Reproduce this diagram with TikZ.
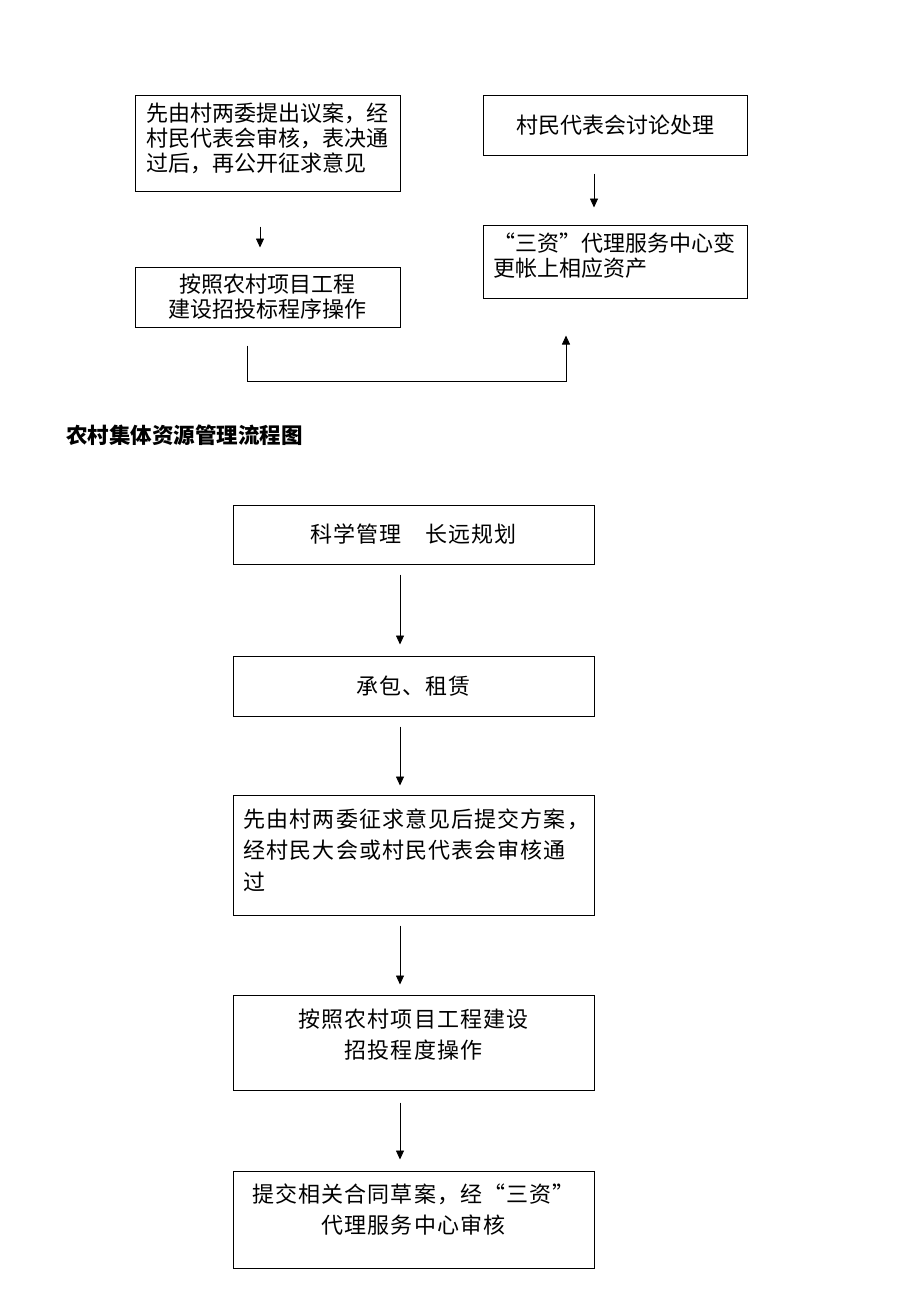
\documentclass[tikz,border=0pt]{standalone}
\usepackage{fontspec}
\setmainfont{Noto Sans CJK SC}
\newfontfamily\cjkwide[LetterSpace=5]{Noto Sans CJK SC}
\usetikzlibrary{arrows.meta}

\tikzset{
  box/.style={draw, line width=1pt, rectangle, inner sep=0pt},
  txt/.style={inner sep=0pt, font=\fontsize{22pt}{25pt}\selectfont},
  wtxt/.style={inner sep=0pt, font=\cjkwide\fontsize{22pt}{31.5pt}\selectfont},
  arr/.style={line width=0.8pt, -{Triangle[length=9pt,width=8pt]}}
}

\begin{document}
\begin{tikzpicture}[x=1pt, y=-1pt]
    % Draw the page
    \fill[white] (0,0) rectangle (920,1302);
    \useasboundingbox (0,0) rectangle (920,1302);

    % Upper part: left column
    \node[box, minimum width=265pt, minimum height=96pt] (shenyi) at (267.5,143) {};
    \node[txt, align=left, anchor=west] (shenyi-t) at ([xshift=12pt,yshift=5pt]shenyi.west)
        {先由村两委提出议案，经\\村民代表会审核，表决通\\过后，再公开征求意见};
    \node[box, minimum width=265pt, minimum height=60pt] (zhaobiao) at (267.5,297) {};
    \node[txt, align=center] (zhaobiao-t) at (zhaobiao.center) {按照农村项目工程\\建设招投标程序操作};

    % Upper part: right column
    \node[box, minimum width=264pt, minimum height=60pt] (taolun) at (615,125) {};
    \node[txt] (taolun-t) at (taolun.center) {村民代表会讨论处理};
    \node[box, minimum width=264pt, minimum height=73pt] (biangeng) at (615,261.5) {};
    \node[txt, align=left, anchor=west] (biangeng-t) at ([xshift=11pt,yshift=6pt]biangeng.west)
        {“三资”代理服务中心变\\更帐上相应资产};

    % Upper arrows
    \draw[arr, shorten <=35pt, shorten >=19pt] ([xshift=-7.5pt]shenyi.south) -- ([xshift=-7.5pt]zhaobiao.north);
    \draw[arr, shorten <=18pt, shorten >=17pt] ([xshift=-21pt]taolun.south) -- ([xshift=-21pt]biangeng.north);
    \coordinate (guodu) at (247,381);
    \draw[arr, shorten <=18pt, shorten >=37pt] ([xshift=-20.5pt]zhaobiao.south) -- (guodu) -| ([xshift=-49pt]biangeng.south);

    % Title
    \node[txt, anchor=west, font=\fontsize{21.5pt}{25pt}\selectfont\bfseries] (biaoti) at (66,435) {农村集体资源管理流程图};

    % Lower flow chart
    \node[box, minimum width=361pt, minimum height=59pt] (guihua) at (413.5,534.5) {};
    \node[wtxt] (guihua-t) at (guihua.center) {科学管理　长远规划};
    \node[box, minimum width=361pt, minimum height=60pt] (chengbao) at (413.5,686) {};
    \node[wtxt] (chengbao-t) at (chengbao.center) {承包、租赁};
    \node[box, minimum width=361pt, minimum height=120pt] (fangan) at (413.5,855) {};
    \node[wtxt, align=left, anchor=west] (fangan-t) at ([xshift=11pt,yshift=5pt]fangan.west)
        {先由村两委征求意见后提交方案，\\经村民大会或村民代表会审核通\\过};
    \node[box, minimum width=361pt, minimum height=95pt] (caozuo) at (413.5,1042.5) {};
    \node[wtxt, align=center] (caozuo-t) at ([yshift=8pt]caozuo.center) {按照农村项目工程建设\\招投程度操作};
    \node[box, minimum width=361pt, minimum height=97pt] (shenhe) at (413.5,1219.5) {};
    \node[wtxt, align=center] (shenhe-t) at ([yshift=10pt]shenhe.center) {提交相关合同草案，经“三资”\\代理服务中心审核};

    % Lower arrows
    \draw[arr, shorten <=10pt, shorten >=11pt] ([xshift=-13.5pt]guihua.south) -- ([xshift=-13.5pt]chengbao.north);
    \draw[arr, shorten <=10pt, shorten >=9pt] ([xshift=-13.5pt]chengbao.south) -- ([xshift=-13.5pt]fangan.north);
    \draw[arr, shorten <=10pt, shorten >=10pt] ([xshift=-13.5pt]fangan.south) -- ([xshift=-13.5pt]caozuo.north);
    \draw[arr, shorten <=12pt, shorten >=11pt] ([xshift=-13.5pt]caozuo.south) -- ([xshift=-13.5pt]shenhe.north);

\end{tikzpicture}
\end{document}
